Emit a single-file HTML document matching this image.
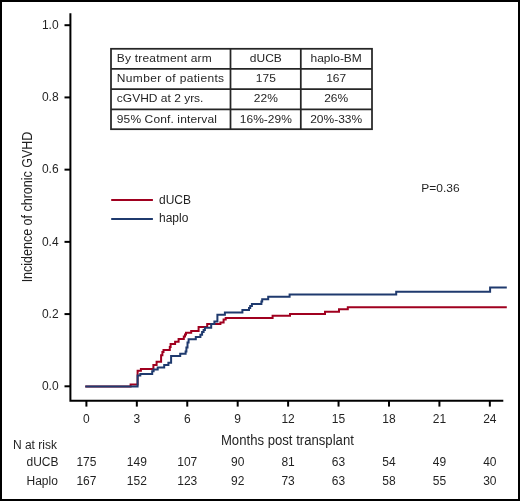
<!DOCTYPE html>
<html><head><meta charset="utf-8"><style>
html,body{margin:0;padding:0;background:#fff;}
svg{display:block;}
text{font-family:"Liberation Sans",sans-serif;fill:#231f20;}
.t{filter:grayscale(1);}
</style></head><body>
<svg width="520" height="501" viewBox="0 0 520 501">
<rect x="0" y="0" width="520" height="501" fill="#fff"/>
<rect x="1" y="1" width="518" height="499" fill="none" stroke="#000" stroke-width="2"/>

<g stroke="#000" stroke-width="2" fill="none">
<path d="M70.4 13.2 V400.8 H503.3" stroke-linecap="butt"/>
<path d="M64.5 25.20 H70"/>
<path d="M64.5 97.42 H70"/>
<path d="M64.5 169.64 H70"/>
<path d="M64.5 241.86 H70"/>
<path d="M64.5 314.08 H70"/>
<path d="M64.5 386.30 H70"/>
<path d="M86.40 401 V406.6"/>
<path d="M136.83 401 V406.6"/>
<path d="M187.26 401 V406.6"/>
<path d="M237.69 401 V406.6"/>
<path d="M288.12 401 V406.6"/>
<path d="M338.55 401 V406.6"/>
<path d="M388.98 401 V406.6"/>
<path d="M439.41 401 V406.6"/>
<path d="M489.84 401 V406.6"/>
</g>
<g stroke="#262626" stroke-width="1.75" fill="none">
<rect x="111" y="48.8" width="261" height="80.4"/>
<path d="M111 68.8 H372"/>
<path d="M111 89.1 H372"/>
<path d="M111 109.4 H372"/>
<path d="M230.5 48.8 V129.2"/>
<path d="M300.8 48.8 V129.2"/>
</g>
<path d="M111.2 200 H152.9" stroke="#a0001f" stroke-width="2"/>
<path d="M111.2 219 H152.9" stroke="#1f3a6e" stroke-width="2"/>
<path d="M85.3 386.4 H130.6 V384.6 H137.6 V370.8 H140.9 V368.9 H153.4 V364.9 H156.6 V361.8 H161.1 V355.2 H162.4 V352.0 H163.5 V350.0 H169.8 V347.0 H170.6 V344.0 H175.1 V341.8 H178.6 V339.0 H183.8 V336.6 H185.0 V334.4 H186.0 V332.7 H191.2 V330.9 H198.6 V326.9 H207.2 V323.9 H220.4 V322.5 H223.6 V319.5 H225.7 V317.9 H272.6 V315.8 H290.0 V314.0 H325.0 V311.8 H339.0 V309.2 H347.8 V307.2 H506.8" stroke="#a0001f" stroke-width="2" fill="none"/>
<path d="M85.3 386.4 H137.6 V375.6 H140.3 V373.9 H152.2 V371.2 H153.6 V369.6 H157.7 V367.6 H164.2 V365.0 H168.4 V362.8 H171.1 V356.0 H180.2 V353.8 H185.6 V351.4 H186.4 V347.6 H187.5 V342.4 H188.6 V339.2 H195.8 V337.0 H200.4 V334.8 H202.1 V332.0 H203.6 V330.0 H204.9 V327.8 H211.2 V324.0 H214.4 V321.6 H217.4 V314.7 H224.9 V312.6 H242.4 V310.1 H249.0 V308.0 H250.2 V305.9 H251.9 V304.0 H261.4 V301.4 H262.2 V299.2 H268.2 V296.8 H289.6 V294.4 H396.2 V291.7 H490.1 V287.4 H506.8" stroke="#1f3a6e" stroke-width="2" fill="none"/>
<g class="t">
<text x="58.6" y="28.90" font-size="12" text-anchor="end">1.0</text>
<text x="58.6" y="101.12" font-size="12" text-anchor="end">0.8</text>
<text x="58.6" y="173.34" font-size="12" text-anchor="end">0.6</text>
<text x="58.6" y="245.56" font-size="12" text-anchor="end">0.4</text>
<text x="58.6" y="317.78" font-size="12" text-anchor="end">0.2</text>
<text x="58.6" y="390.00" font-size="12" text-anchor="end">0.0</text>
<text x="86.40" y="422.8" font-size="12" text-anchor="middle">0</text>
<text x="136.83" y="422.8" font-size="12" text-anchor="middle">3</text>
<text x="187.26" y="422.8" font-size="12" text-anchor="middle">6</text>
<text x="237.69" y="422.8" font-size="12" text-anchor="middle">9</text>
<text x="288.12" y="422.8" font-size="12" text-anchor="middle">12</text>
<text x="338.55" y="422.8" font-size="12" text-anchor="middle">15</text>
<text x="388.98" y="422.8" font-size="12" text-anchor="middle">18</text>
<text x="439.41" y="422.8" font-size="12" text-anchor="middle">21</text>
<text x="489.84" y="422.8" font-size="12" text-anchor="middle">24</text>
<text transform="translate(31.6 207) rotate(-90) scale(0.834 1)" x="0" y="0" font-size="15" text-anchor="middle">Incidence of chronic GVHD</text>
<text transform="translate(287.4 445.2) scale(0.877 1)" x="0" y="0" font-size="15" text-anchor="middle">Months post transplant</text>
<text transform="translate(116.8 61.8) scale(1 0.91)" font-size="12" letter-spacing="0.20">By treatment arm</text>
<text transform="translate(265.8 61.8) scale(1 0.91)" font-size="12" text-anchor="middle">dUCB</text>
<text transform="translate(336.2 61.8) scale(1 0.91)" font-size="12" text-anchor="middle">haplo-BM</text>
<text transform="translate(116.8 82.1) scale(1 0.91)" font-size="12" letter-spacing="0.35">Number of patients</text>
<text transform="translate(265.8 82.1) scale(1 0.91)" font-size="12" text-anchor="middle">175</text>
<text transform="translate(336.2 82.1) scale(1 0.91)" font-size="12" text-anchor="middle">167</text>
<text transform="translate(116.8 102.4) scale(1 0.91)" font-size="12" letter-spacing="0.00">cGVHD at 2 yrs.</text>
<text transform="translate(265.8 102.4) scale(1 0.91)" font-size="12" text-anchor="middle">22%</text>
<text transform="translate(336.2 102.4) scale(1 0.91)" font-size="12" text-anchor="middle">26%</text>
<text transform="translate(116.8 122.6) scale(1 0.91)" font-size="12" letter-spacing="0.12">95% Conf. interval</text>
<text transform="translate(265.8 122.6) scale(1 0.91)" font-size="12" text-anchor="middle">16%-29%</text>
<text transform="translate(336.2 122.6) scale(1 0.91)" font-size="12" text-anchor="middle">20%-33%</text>
<text x="159" y="203.5" font-size="12">dUCB</text>
<text x="159" y="222.2" font-size="12">haplo</text>
<text transform="translate(421.3 191.6) scale(1 0.94)" font-size="12">P=0.36</text>
<text x="12.9" y="449" font-size="12">N at risk</text>
<text x="26.5" y="465.8" font-size="12">dUCB</text>
<text x="26.5" y="484.5" font-size="12">Haplo</text>
<text x="86.40" y="465.8" font-size="12" text-anchor="middle">175</text>
<text x="86.40" y="484.5" font-size="12" text-anchor="middle">167</text>
<text x="136.83" y="465.8" font-size="12" text-anchor="middle">149</text>
<text x="136.83" y="484.5" font-size="12" text-anchor="middle">152</text>
<text x="187.26" y="465.8" font-size="12" text-anchor="middle">107</text>
<text x="187.26" y="484.5" font-size="12" text-anchor="middle">123</text>
<text x="237.69" y="465.8" font-size="12" text-anchor="middle">90</text>
<text x="237.69" y="484.5" font-size="12" text-anchor="middle">92</text>
<text x="288.12" y="465.8" font-size="12" text-anchor="middle">81</text>
<text x="288.12" y="484.5" font-size="12" text-anchor="middle">73</text>
<text x="338.55" y="465.8" font-size="12" text-anchor="middle">63</text>
<text x="338.55" y="484.5" font-size="12" text-anchor="middle">63</text>
<text x="388.98" y="465.8" font-size="12" text-anchor="middle">54</text>
<text x="388.98" y="484.5" font-size="12" text-anchor="middle">58</text>
<text x="439.41" y="465.8" font-size="12" text-anchor="middle">49</text>
<text x="439.41" y="484.5" font-size="12" text-anchor="middle">55</text>
<text x="489.84" y="465.8" font-size="12" text-anchor="middle">40</text>
<text x="489.84" y="484.5" font-size="12" text-anchor="middle">30</text>
</g>
</svg></body></html>
